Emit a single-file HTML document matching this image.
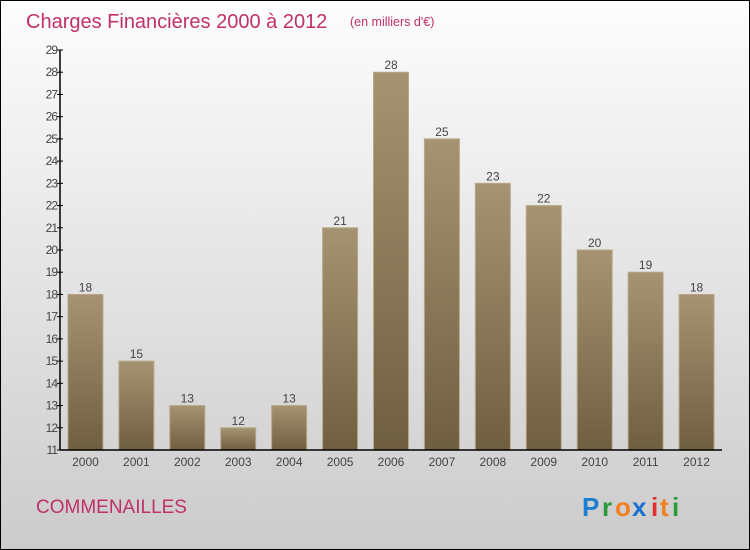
<!DOCTYPE html>
<html><head><meta charset="utf-8"><style>
body{margin:0;width:750px;height:550px;overflow:hidden}
svg{display:block;font-family:"Liberation Sans",sans-serif}
</style></head><body>
<svg id="c" width="750" height="550">
<defs>
<linearGradient id="bg" x1="0" y1="0" x2="0" y2="1"><stop offset="0" stop-color="#fdfdfd"/><stop offset="1" stop-color="#cbcbcb"/></linearGradient>
<linearGradient id="bar" x1="0" y1="0" x2="0" y2="1"><stop offset="0" stop-color="#a69373"/><stop offset="1" stop-color="#6f5f40"/></linearGradient>
</defs>
<rect x="0.5" y="0.5" width="749" height="549" fill="url(#bg)" stroke="#000"/>
<text x="26" y="28" font-size="20" fill="#c0306a">Charges Financières 2000 à 2012</text>
<text x="350" y="26" font-size="12.5" fill="#c0306a">(en milliers d'€)</text>
<text x="36" y="513" font-size="19" fill="#c0306a">COMMENAILLES</text>
<g font-size="26" font-weight="bold">
<text x="582" y="516" fill="#1a7fd0">P</text><text x="602" y="516" fill="#2a9a3a">r</text><text x="615" y="516" fill="#f08020">o</text><text x="632" y="516" fill="#1a6fd0">x</text><text x="651" y="516" fill="#e03030">i</text><text x="660" y="516" fill="#f08020">t</text><text x="672" y="516" fill="#2a9a3a">i</text>
</g>
<g id="plot"></g>
</svg>
<script>
const years=["2000","2001","2002","2003","2004","2005","2006","2007","2008","2009","2010","2011","2012"];
const values=[18,15,13,12,13,21,28,25,23,22,20,19,18];
const yTicks=[11,12,13,14,15,16,17,18,19,20,21,22,23,24,25,26,27,28,29];
const NS="http://www.w3.org/2000/svg";
const plotG=document.getElementById('plot');
const yMin=11,yMax=29,plotTop=50,plotBot=450,x0=60,x1=722;
const yScale=v=>plotBot-(v-yMin)/(yMax-yMin)*(plotBot-plotTop);
const step=(x1-x0)/years.length;
const cx=i=>x0+step*(i+0.5);
function mk(t,a,txt){const e=document.createElementNS(NS,t);for(const k in a)e.setAttribute(k,a[k]);if(txt!=null)e.textContent=txt;plotG.appendChild(e);return e;}
values.forEach((v,i)=>{
 const b=mk('rect',{x:cx(i)-17.5,y:yScale(v),width:35,height:plotBot-yScale(v),fill:'url(#bar)',stroke:'#b8a888','stroke-width':1});
 
 
 const l=mk('text',{x:cx(i),y:yScale(v)-3,'font-size':12,fill:'#444','text-anchor':'middle'},String(v));
 
 
 const xl=mk('text',{x:cx(i),y:466,'font-size':12,fill:'#444','text-anchor':'middle'},years[i]);
 
 
});
const ya=mk('line',{x1:x0,y1:plotTop,x2:x0,y2:plotBot,stroke:'#000','stroke-width':1.5});


const xa=mk('line',{x1:x0,y1:plotBot,x2:x1,y2:plotBot,stroke:'#000','stroke-width':1.5});


yTicks.forEach(t=>{
 const tk=mk('line',{x1:x0-3,y1:yScale(t),x2:x0+3,y2:yScale(t),stroke:'#000'});
 
 
 const tl=mk('text',{x:x0-3,y:yScale(t)+4,'font-size':12,fill:'#444','text-anchor':'end','letter-spacing':'-1'},String(t));
 
 
});
</script>
</body></html>
